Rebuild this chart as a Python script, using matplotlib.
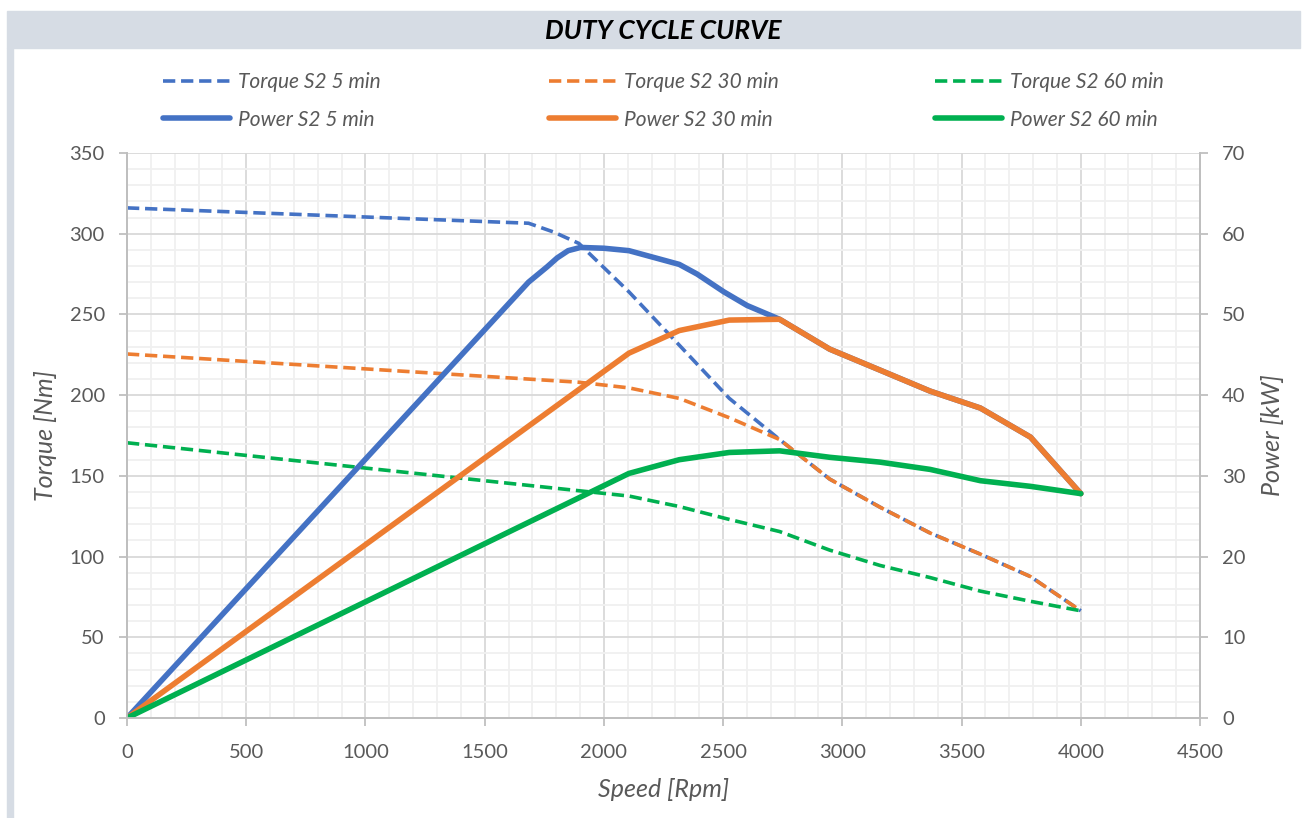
import matplotlib
matplotlib.use('Agg')
import matplotlib.pyplot as plt
from matplotlib.patches import Rectangle
from matplotlib.ticker import MultipleLocator

plt.rcParams['font.family'] = ['Lato', 'DejaVu Sans']

# Farben wie im Excel-Diagramm
BLUE = '#4472C4'
ORANGE = '#ED7D31'
GREEN = '#00B050'
GRAY_TXT = '#595959'
AXIS_GRAY = '#BFBFBF'

# Daten
rpm_t5 = [0, 1684, 1790, 1895, 2105, 2316, 2526, 2737, 2947, 3158, 3368, 3579, 3789, 4000]
torque_5 = [316, 306.5, 301, 294, 264, 231, 198, 172.5, 148, 130.6, 114.6, 101.5, 87.6, 66.4]

rpm_t30 = [0, 1895, 2105, 2316, 2526, 2737, 2947, 3158, 3368, 3579, 3789, 4000]
torque_30 = [225.5, 208, 204.5, 198, 186, 172.5, 148, 130.6, 114.6, 101.5, 87.6, 66.4]

rpm_t60 = [0, 2105, 2316, 2526, 2737, 2947, 3158, 3368, 3579, 3789, 4000]
torque_60 = [170.5, 137.5, 131, 123, 115.5, 104, 94.5, 87, 78.6, 72.3, 66.4]

rpm_p5 = [0, 1684, 1762, 1804, 1850, 1902, 2000, 2105, 2316, 2391, 2503, 2601, 2737,
          2947, 3158, 3368, 3579, 3789, 4000]
power_5 = [0, 54.0, 55.9, 57.0, 57.9, 58.3, 58.2, 57.9, 56.2, 55.0, 52.8, 51.1, 49.4,
           45.7, 43.1, 40.5, 38.4, 34.8, 27.8]

rpm_p30 = [0, 2105, 2316, 2526, 2737, 2947, 3158, 3368, 3579, 3789, 4000]
power_30 = [0, 45.2, 48.0, 49.3, 49.4, 45.7, 43.1, 40.5, 38.4, 34.8, 27.8]

rpm_p60 = [0, 2105, 2316, 2526, 2737, 2947, 3158, 3368, 3579, 3789, 4000]
power_60 = [0, 30.3, 32.0, 32.9, 33.1, 32.3, 31.7, 30.8, 29.4, 28.7, 27.8]

fig = plt.figure(figsize=(13.04, 8.18), dpi=100)

# Titelband und linker Rand
fig.patches.append(Rectangle((7 / 1304, 1 - 48 / 818), 1293 / 1304, 37 / 818,
                             transform=fig.transFigure, color='#D6DCE4', zorder=0))
fig.patches.append(Rectangle((7 / 1304, 0), 6 / 1304, 1 - 48 / 818,
                             transform=fig.transFigure, color='#D6DCE4', zorder=0))
fig.text(0.509, 1 - 31 / 818, 'DUTY CYCLE CURVE', ha='center', va='center',
         fontsize=19, weight='bold', style='italic', color='black')

ax = fig.add_axes([127 / 1304, 1 - 718 / 818, 1073 / 1304, 565 / 818])
ax2 = ax.twinx()

DASH = dict(lw=2.6, dashes=(3.4, 1.6))
SOLID = dict(lw=4.0, solid_capstyle='round', solid_joinstyle='round')

h_t5, = ax.plot(rpm_t5, torque_5, color=BLUE, label='Torque S2 5 min', **DASH)
h_t30, = ax.plot(rpm_t30, torque_30, color=ORANGE, label='Torque S2 30 min', **DASH)
h_t60, = ax.plot(rpm_t60, torque_60, color=GREEN, label='Torque S2 60 min', **DASH)

h_p5, = ax2.plot(rpm_p5, power_5, color=BLUE, label='Power S2 5 min', **SOLID)
h_p30, = ax2.plot(rpm_p30, power_30, color=ORANGE, label='Power S2 30 min', **SOLID)
h_p60, = ax2.plot(rpm_p60, power_60, color=GREEN, label='Power S2 60 min', **SOLID)

ax.set_xlim(0, 4500)
ax.set_ylim(0, 350)
ax2.set_ylim(0, 70)
ax.xaxis.set_major_locator(MultipleLocator(500))
ax.xaxis.set_minor_locator(MultipleLocator(100))
ax.yaxis.set_major_locator(MultipleLocator(50))
ax.yaxis.set_minor_locator(MultipleLocator(10))
ax2.yaxis.set_major_locator(MultipleLocator(10))
ax2.yaxis.set_minor_locator(MultipleLocator(2))

ax.set_axisbelow(True)
ax.grid(True, which='major', color='#D9D9D9', lw=1.3)
ax.grid(True, which='minor', color='#F0F0F0', lw=1.3)

for a in (ax, ax2):
    a.spines['top'].set_visible(False)
    for s in ('left', 'right', 'bottom'):
        a.spines[s].set_color(AXIS_GRAY)
        a.spines[s].set_linewidth(1.3)
    a.tick_params(which='major', length=6, width=1.3, color=AXIS_GRAY,
                  labelsize=14.5, labelcolor=GRAY_TXT, pad=10)
    a.tick_params(which='minor', length=0)
ax.tick_params(axis='x', pad=13)

ax.set_xlabel('Speed [Rpm]', fontsize=18, style='italic', color=GRAY_TXT, labelpad=12)
ax.set_ylabel('Torque [Nm]', fontsize=18, style='italic', color=GRAY_TXT, labelpad=9)
ax2.set_ylabel('Power [kW]', fontsize=18, style='italic', color=GRAY_TXT, labelpad=11)

# Legende: drei Spalten an festen Positionen
cols = [(h_t5, h_p5), (h_t30, h_p30), (h_t60, h_p60)]
col_x = [163, 549, 935]
for handles, x0 in zip(cols, col_x):
    fig.legend(handles=list(handles), loc='upper left',
               bbox_to_anchor=(x0 / 1304, 1 - 72 / 818), frameon=False,
               handlelength=3.2, handletextpad=0.4,
               borderpad=0, borderaxespad=0, labelspacing=0.85,
               labelcolor=GRAY_TXT, prop={'style': 'italic', 'size': 15})

fig.savefig('out.png', dpi=100)
